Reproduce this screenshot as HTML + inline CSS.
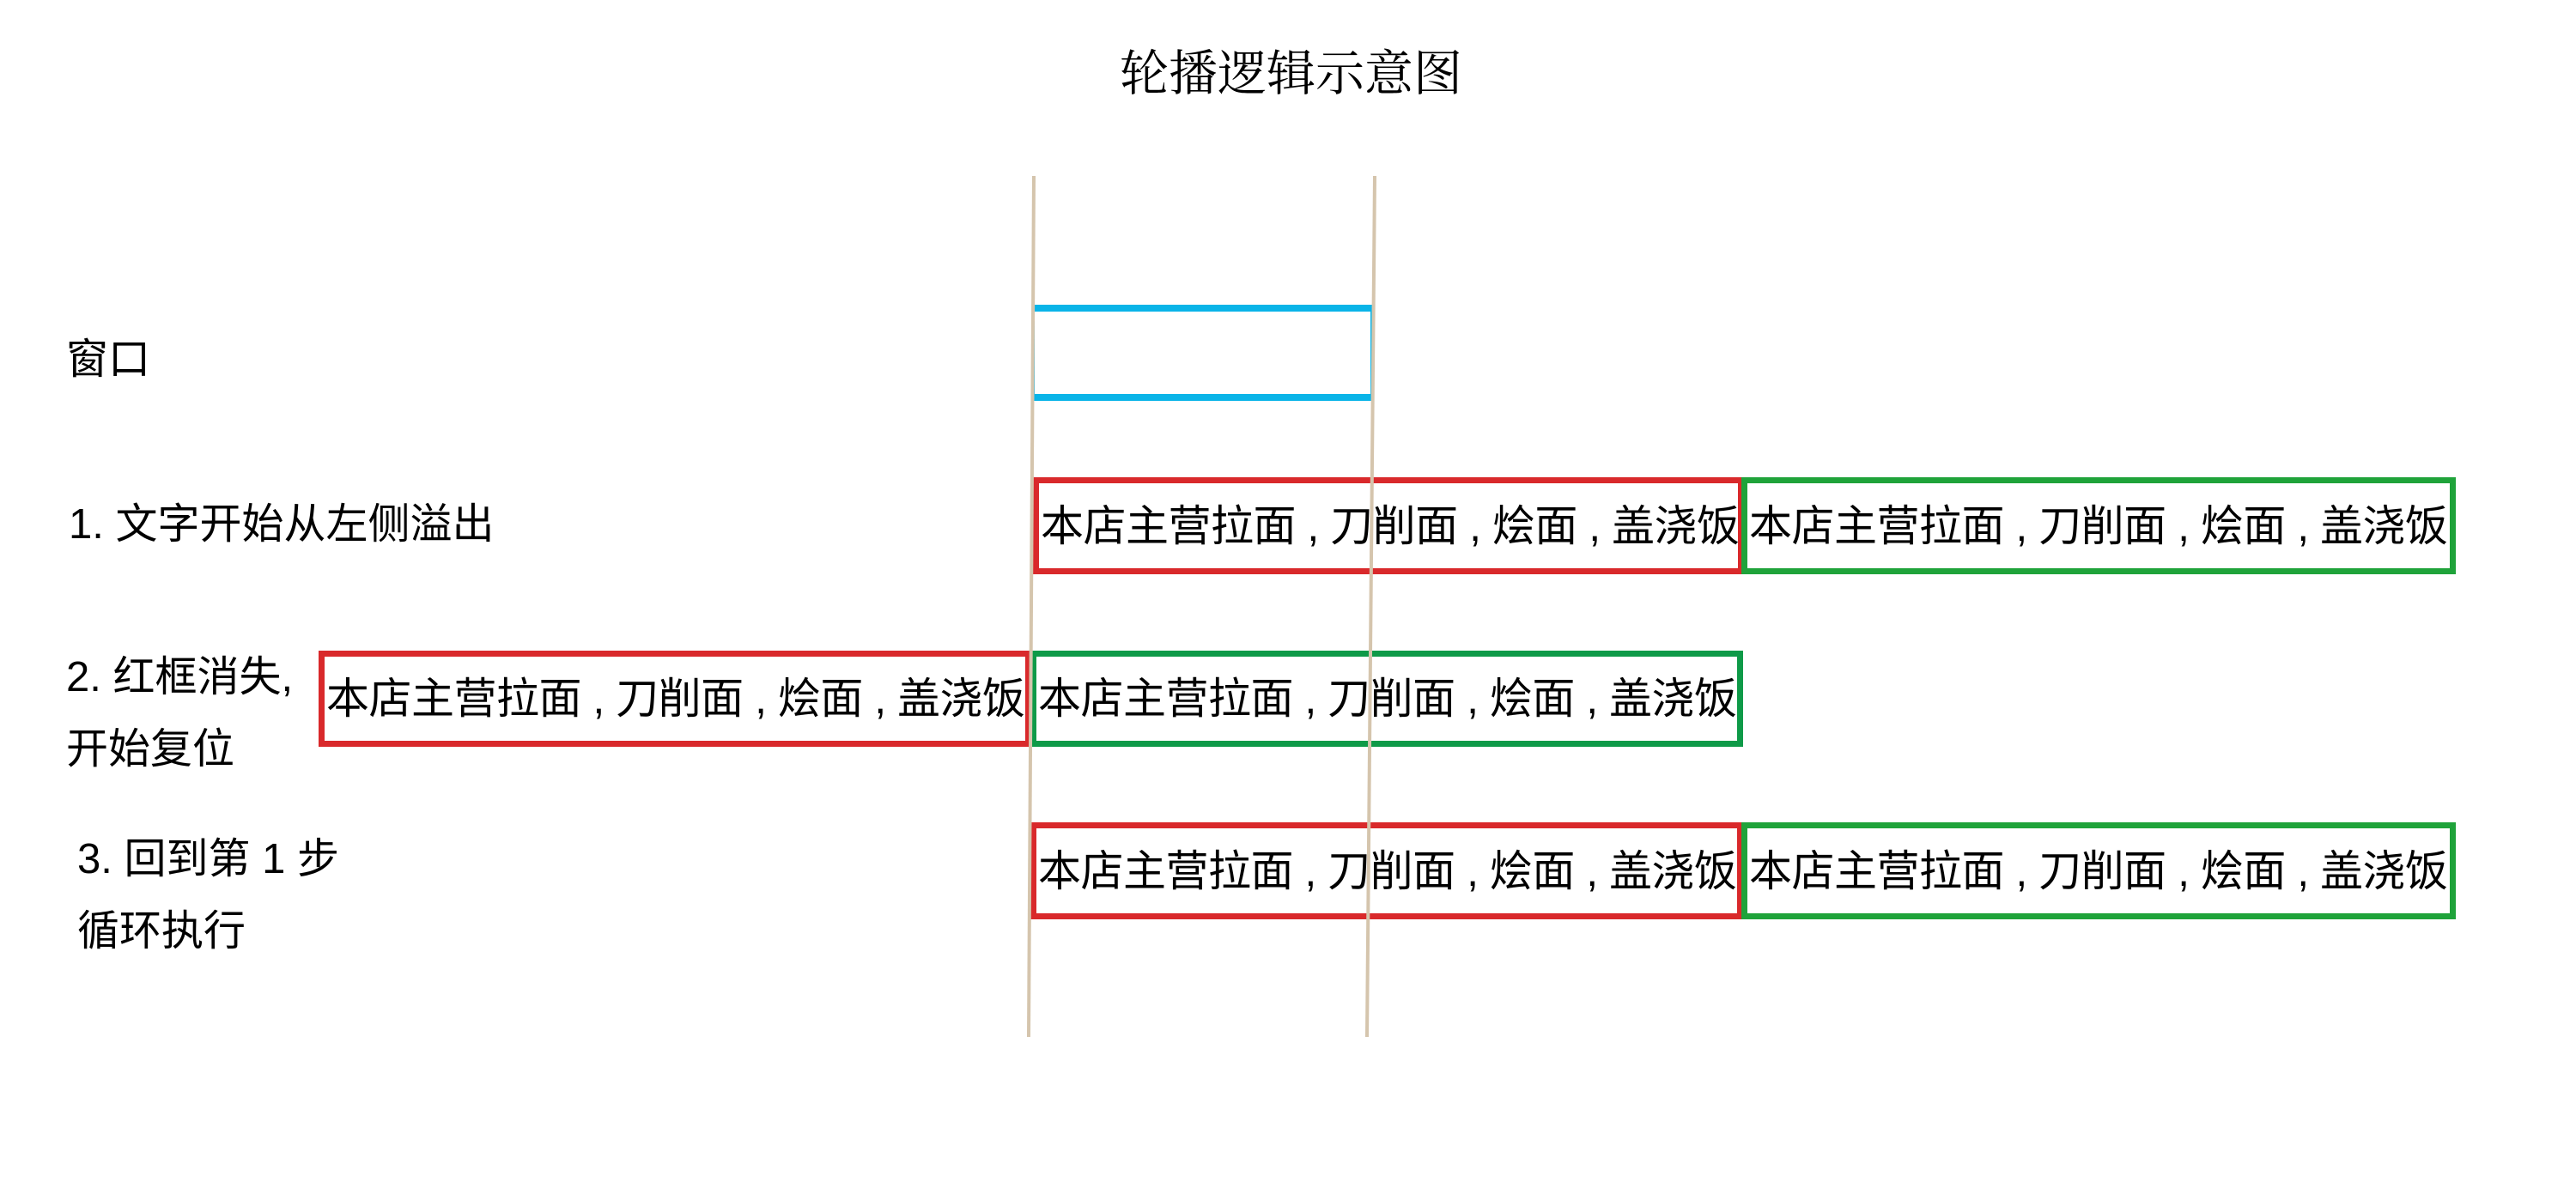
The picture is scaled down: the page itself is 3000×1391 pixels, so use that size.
<!DOCTYPE html>
<html><head><meta charset="utf-8"><style>
body{margin:0;width:3000px;height:1391px;background:#fff;position:relative;overflow:hidden;font-family:"Liberation Sans","Noto Sans CJK SC",sans-serif;color:#000}
.t{position:absolute;font-size:49px;line-height:1;white-space:nowrap}
.b{position:absolute;box-sizing:border-box;border:7px solid #d9292b;font-size:50px;line-height:1;white-space:nowrap;display:flex;align-items:center;padding-left:2px;letter-spacing:-0.5px;overflow:visible}
.g{border-color:#1fa33a}
</style></head><body>
<div class="t" style="left:1304px;top:58px;font-family:'Liberation Serif','Noto Serif CJK SC',serif;font-size:57px">轮播逻辑示意图</div>
<div class="t" style="left:77px;top:395px">窗口</div>
<div class="t" style="left:80px;top:587px">1. 文字开始从左侧溢出</div>
<div class="t" style="left:77px;top:765px">2. 红框消失,</div>
<div class="t" style="left:77px;top:849px">开始复位</div>
<div class="t" style="left:90px;top:977px">3. 回到第 1 步</div>
<div class="t" style="left:90px;top:1061px">循环执行</div>

<div style="position:absolute;left:1202px;top:355px;width:397px;height:112px;box-sizing:border-box;border:3px solid #0ab4e8;border-top-width:8px;border-bottom-width:8px"></div>

<div class="b" style="left:1203px;top:556px;width:828px;height:113px">本店主营拉面 , 刀削面 , 烩面 , 盖浇饭</div>
<div class="b g" style="left:2028px;top:556px;width:832px;height:113px">本店主营拉面 , 刀削面 , 烩面 , 盖浇饭</div>

<div class="b" style="left:371px;top:758px;width:830px;height:112px">本店主营拉面 , 刀削面 , 烩面 , 盖浇饭</div>
<div class="b g" style="left:1200px;top:758px;width:830px;height:112px;border-color:#0e9a48">本店主营拉面 , 刀削面 , 烩面 , 盖浇饭</div>

<div class="b" style="left:1200px;top:958px;width:830px;height:113px">本店主营拉面 , 刀削面 , 烩面 , 盖浇饭</div>
<div class="b g" style="left:2028px;top:958px;width:832px;height:113px">本店主营拉面 , 刀削面 , 烩面 , 盖浇饭</div>

<svg width="3000" height="1391" style="position:absolute;left:0;top:0">
<line x1="1204" y1="205" x2="1198" y2="1208" stroke="#d5c5ad" stroke-width="4"/>
<line x1="1601" y1="205" x2="1592" y2="1208" stroke="#d5c5ad" stroke-width="4"/>
</svg>
</body></html>
